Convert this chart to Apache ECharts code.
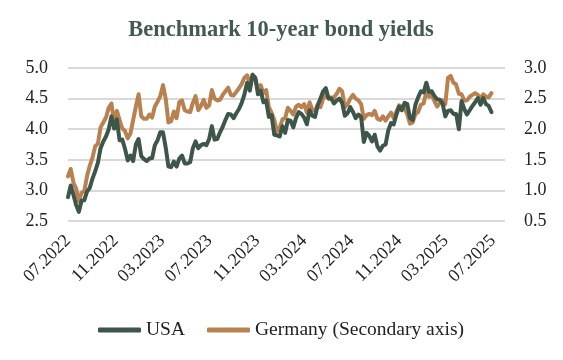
<!DOCTYPE html>
<html>
<head>
<meta charset="utf-8">
<script src="https://cdn.jsdelivr.net/npm/echarts@6.0.0/dist/echarts.min.js"></script>
<style>
html,body{margin:0;padding:0;background:#fff;}
#chart{width:563px;height:360px;}
</style>
</head>
<body>
<div id="chart"></div>
<script>
// Weekly observations (Fridays), first week 2022-07-01
const startDate = [2022, 6, 1];
const endDate = [2025, 7, 1];
const tickLabels = ['07.2022','11.2022','03.2023','07.2023','11.2023','03.2024','07.2024','11.2024','03.2025','07.2025'];
const usa = [
 2.89,3.08,2.93,2.76,2.65,2.83,2.84,2.98,3.04,3.19,3.31,3.45,3.69,3.80,3.88,4.00,4.21,4.01,4.16,3.82,
 3.83,3.68,3.49,3.57,3.48,3.75,3.84,3.56,3.51,3.48,3.52,3.53,3.74,3.82,3.95,3.95,3.70,3.39,3.38,3.47,
 3.39,3.52,3.57,3.44,3.44,3.46,3.69,3.80,3.69,3.74,3.76,3.74,3.84,4.05,3.83,3.84,3.95,4.04,4.15,4.25,
 4.24,4.18,4.26,4.33,4.43,4.57,4.76,4.63,4.89,4.84,4.57,4.63,4.44,4.47,4.20,4.23,3.91,3.90,3.88,4.05,
 3.94,4.15,4.14,4.03,4.18,4.28,4.25,4.19,4.08,4.31,4.22,4.20,4.39,4.50,4.62,4.67,4.50,4.50,4.42,4.47,
 4.50,4.43,4.22,4.26,4.36,4.28,4.18,4.24,4.20,3.79,3.94,3.89,3.80,3.91,3.72,3.65,3.73,3.75,3.98,4.10,
 4.08,4.24,4.37,4.31,4.43,4.41,4.18,4.15,4.40,4.52,4.62,4.60,4.76,4.61,4.62,4.54,4.49,4.48,4.42,4.21,
 4.30,4.31,4.25,4.25,4.00,4.46,4.33,4.24,4.31,4.38,4.44,4.51,4.40,4.51,4.41,4.38,4.28
];
const germany = [
 1.23,1.35,1.13,1.03,0.82,0.96,0.99,1.23,1.40,1.53,1.72,1.76,2.03,2.11,2.19,2.35,2.42,2.10,2.30,2.15,
 2.01,1.97,1.85,1.93,2.15,2.37,2.57,2.21,2.17,2.17,2.24,2.19,2.37,2.45,2.54,2.72,2.50,2.11,2.13,2.29,
 2.18,2.44,2.47,2.31,2.29,2.28,2.43,2.54,2.31,2.38,2.48,2.35,2.39,2.64,2.50,2.47,2.48,2.56,2.62,2.68,
 2.56,2.55,2.61,2.67,2.74,2.84,2.88,2.74,2.89,2.83,2.65,2.72,2.59,2.64,2.36,2.27,2.15,1.97,2.02,2.16,
 2.18,2.35,2.30,2.24,2.37,2.40,2.36,2.41,2.27,2.44,2.32,2.30,2.40,2.36,2.50,2.57,2.50,2.52,2.52,2.58,
 2.66,2.62,2.36,2.41,2.50,2.56,2.50,2.47,2.41,2.17,2.23,2.25,2.23,2.30,2.17,2.15,2.21,2.14,2.21,2.27,
 2.18,2.29,2.39,2.37,2.35,2.24,2.09,2.11,2.25,2.28,2.40,2.42,2.60,2.53,2.56,2.46,2.37,2.43,2.47,2.41,
 2.84,2.87,2.76,2.73,2.58,2.57,2.47,2.47,2.53,2.56,2.59,2.56,2.50,2.57,2.53,2.52,2.59
];
const leftTicks = {min: 2.5, max: 5.0, step: 0.5};
const rightTicks = {min: 0.5, max: 3.0, step: 0.5};

// x is measured in days from the first observation
const DAY = 86400000;
const t0 = new Date(startDate[0], startDate[1], startDate[2]).getTime();
const dayOf = (y, m, d) => Math.round((new Date(y, m, d).getTime() - t0) / DAY);
const xDays = usa.map((_, i) => 7 * i);
const usaData = usa.map((v, i) => [xDays[i], v]);
const deData = germany.map((v, i) => [xDays[i], v]);
const tickDays = tickLabels.map(s => {
  const [m, y] = s.split('.');
  return dayOf(+y, +m - 1, 1);
});
const labelFor = {};
tickDays.forEach((d, i) => { labelFor[d] = tickLabels[i]; });

const serif = "'Liberation Serif', 'DejaVu Serif', serif";
const legendText = {fontFamily: serif, fontSize: 19.5, color: '#222'};
const chart = echarts.init(document.getElementById('chart'), null, {renderer: 'canvas'});
chart.setOption({
  animation: false,
  backgroundColor: '#ffffff',
  graphic: [{
    type: 'text',
    style: {
      x: 281, y: 30,
      text: 'Benchmark 10-year bond yields',
      font: "bold 22.5px " + serif,
      fill: '#435a50',
      align: 'center',
      verticalAlign: 'middle'
    }
  }],
  legend: [{
    left: 93, top: 315,
    itemWidth: 43, itemHeight: 5,
    icon: 'roundRect',
    data: ['USA'],
    textStyle: legendText
  }, {
    left: 202, top: 315,
    itemWidth: 43, itemHeight: 5,
    icon: 'roundRect',
    data: ['Germany (Secondary axis)'],
    textStyle: legendText
  }],
  grid: {left: 68, right: 58, top: 68, bottom: 139, containLabel: false},
  xAxis: {
    type: 'value',
    min: 0,
    max: dayOf(endDate[0], endDate[1], endDate[2]),
    axisLine: {show: false},
    axisTick: {show: false},
    splitLine: {show: false},
    axisLabel: {
      customValues: tickDays,
      rotate: 45,
      margin: 17,
      hideOverlap: false,
      showMinLabel: true,
      showMaxLabel: true,
      fontFamily: serif,
      fontSize: 18,
      color: '#222',
      formatter: function (v) {
        const k = Math.round(v);
        return labelFor[k] !== undefined ? labelFor[k] : '';
      }
    }
  },
  yAxis: [{
    type: 'value',
    min: leftTicks.min, max: leftTicks.max, interval: leftTicks.step,
    axisLine: {show: false}, axisTick: {show: false},
    splitLine: {show: true, lineStyle: {color: '#d9d9d9', width: 2}},
    axisLabel: {margin: 20, fontFamily: serif, fontSize: 18, color: '#222', formatter: v => v.toFixed(1)}
  }, {
    type: 'value',
    min: rightTicks.min, max: rightTicks.max, interval: rightTicks.step,
    axisLine: {show: false}, axisTick: {show: false},
    splitLine: {show: false},
    axisLabel: {margin: 19, fontFamily: serif, fontSize: 18, color: '#222', formatter: v => v.toFixed(1)}
  }],
  series: [{
    name: 'Germany (Secondary axis)',
    type: 'line',
    yAxisIndex: 1,
    data: deData,
    showSymbol: false,
    symbol: 'none',
    color: '#b98150',
    lineStyle: {width: 4, color: '#b98150', join: 'round', cap: 'round'}
  }, {
    name: 'USA',
    type: 'line',
    yAxisIndex: 0,
    data: usaData,
    showSymbol: false,
    symbol: 'none',
    color: '#3d5649',
    lineStyle: {width: 4, color: '#3d5649', join: 'round', cap: 'round'}
  }]
});
</script>
</body>
</html>
